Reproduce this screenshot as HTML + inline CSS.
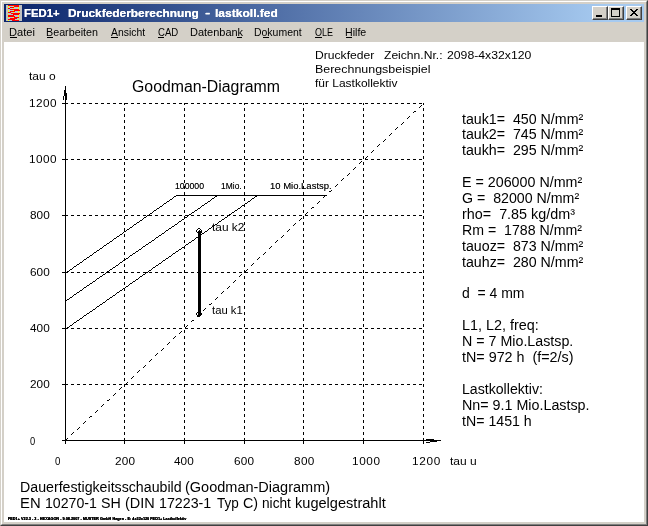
<!DOCTYPE html><html lang="de"><head><meta charset="utf-8"><title>FED1+ Druckfederberechnung - lastkoll.fed</title><style>
html,body{margin:0;padding:0;}
body{width:648px;height:526px;overflow:hidden;background:#d4d0c8;position:relative;font-family:"Liberation Sans",sans-serif;color:#000;}
.abs{position:absolute;}
.t{position:absolute;white-space:pre;line-height:1;transform-origin:0 0;font-family:"Liberation Sans",sans-serif;color:#000;}
.m u{text-decoration:none;}
#title{position:absolute;left:4px;top:4px;width:640px;height:18px;background:linear-gradient(to right,#0a246a 0%,#a6caf0 94%);}
.w{color:#fff;font-weight:bold;text-shadow:0 0 0 #fff;}
.btn{position:absolute;top:6px;width:16px;height:14px;background:#d4d0c8;box-sizing:border-box;border:1px solid;border-color:#fff #404040 #404040 #fff;box-shadow:inset -1px -1px 0 #808080;}
</style></head><body>
<div class="abs" style="left:0;top:0;width:648px;height:526px;box-sizing:border-box;border:1px solid;border-color:#d4d0c8 #404040 #404040 #d4d0c8;"></div>
<div class="abs" style="left:1px;top:1px;width:646px;height:524px;box-sizing:border-box;border:1px solid;border-color:#fff #808080 #808080 #fff;"></div>
<div id="title"></div>
<svg class="abs" style="left:6px;top:5px" width="16" height="16" viewBox="0 0 16 16" shape-rendering="crispEdges"><rect width="16" height="16" fill="#c0c0c0"/><path fill="#ff0000" d="M2 0h11v1h-11zM8 1h5v1h-5zM4 2h4v1h-4zM2 3h2v1h-2zM4 4h9v1h-9zM8 5h6v1h-6zM4 6h5v1h-5zM2 7h3v1h-3zM5 8h9v1h-9zM7 9h6v1h-6zM2 10h6v1h-6zM2 11h7v1h-7zM8 12h5v1h-5zM4 13h7v1h-7zM2 14h7v1h-7zM6 15h7v1h-7z"/><path fill="#ffff00" d="M2 1h1v1h-1zM7 1h1v1h-1zM2 2h1v1h-1zM12 2h1v1h-1zM7 3h1v1h-1zM12 3h1v1h-1zM2 5h1v1h-1zM7 5h1v1h-1zM2 6h1v1h-1zM12 6h1v1h-1zM7 7h1v1h-1zM12 7h1v1h-1zM2 9h1v1h-1zM12 10h1v1h-1zM12 11h1v1h-1zM2 12h1v1h-1zM7 12h1v1h-1zM12 14h1v1h-1zM2 15h1v1h-1z"/><path fill="#b4c8d0" d="M3 1h4v1h-4zM3 2h1v1h-1zM8 2h4v1h-4zM4 3h3v1h-3zM8 3h4v1h-4zM2 4h2v1h-2zM3 5h4v1h-4zM3 6h1v1h-1zM9 6h3v1h-3zM5 7h2v1h-2zM8 7h4v1h-4zM2 8h3v1h-3zM3 9h4v1h-4zM8 10h4v1h-4zM9 11h3v1h-3zM3 12h4v1h-4zM2 13h2v1h-2zM11 13h2v1h-2zM9 14h3v1h-3zM3 15h3v1h-3z"/></svg>
<div class="btn" style="left:592px"><div class="abs" style="left:3px;top:8px;width:6px;height:2px;background:#000"></div></div>
<div class="btn" style="left:608px"><div class="abs" style="left:2px;top:1px;width:9px;height:9px;box-sizing:border-box;border:1px solid #000;border-top-width:2px"></div></div>
<div class="btn" style="left:626px"><svg class="abs" style="left:3px;top:2px" width="8" height="7" viewBox="0 0 8 7" shape-rendering="crispEdges"><path d="M0 0h2v1h1v1h2v-1h1v-1h2v1h-1v1h-1v1h-1v1h1v1h1v1h1v1h-2v-1h-1v-1h-2v1h-1v1h-2v-1h1v-1h1v-1h1v-1h-1v-1h-1v-1h-1z" fill="#000"/></svg></div>
<div class="abs" style="left:4px;top:42px;width:640px;height:480px;background:#fff"></div>
<svg class="abs" style="left:0;top:0" width="648" height="526" viewBox="0 0 648 526" shape-rendering="crispEdges" fill="none" stroke="#000" stroke-width="1"><line x1="124.5" y1="441" x2="124.5" y2="103" stroke-dasharray="3 3"/><line x1="124.5" y1="438" x2="124.5" y2="444"/><line x1="65" y1="384.5" x2="424" y2="384.5" stroke-dasharray="3 3"/><line x1="62" y1="384.5" x2="68" y2="384.5"/><line x1="184.5" y1="441" x2="184.5" y2="103" stroke-dasharray="3 3"/><line x1="184.5" y1="438" x2="184.5" y2="444"/><line x1="65" y1="328.5" x2="424" y2="328.5" stroke-dasharray="3 3"/><line x1="62" y1="328.5" x2="68" y2="328.5"/><line x1="244.5" y1="441" x2="244.5" y2="103" stroke-dasharray="3 3"/><line x1="244.5" y1="438" x2="244.5" y2="444"/><line x1="65" y1="272.5" x2="424" y2="272.5" stroke-dasharray="3 3"/><line x1="62" y1="272.5" x2="68" y2="272.5"/><line x1="303.5" y1="441" x2="303.5" y2="103" stroke-dasharray="3 3"/><line x1="303.5" y1="438" x2="303.5" y2="444"/><line x1="65" y1="215.5" x2="424" y2="215.5" stroke-dasharray="3 3"/><line x1="62" y1="215.5" x2="68" y2="215.5"/><line x1="363.5" y1="441" x2="363.5" y2="103" stroke-dasharray="3 3"/><line x1="363.5" y1="438" x2="363.5" y2="444"/><line x1="65" y1="159.5" x2="424" y2="159.5" stroke-dasharray="3 3"/><line x1="62" y1="159.5" x2="68" y2="159.5"/><line x1="423.5" y1="441" x2="423.5" y2="103" stroke-dasharray="3 3"/><line x1="423.5" y1="438" x2="423.5" y2="444"/><line x1="65" y1="103.5" x2="424" y2="103.5" stroke-dasharray="3 3"/><line x1="62" y1="103.5" x2="68" y2="103.5"/><line x1="65.5" y1="86" x2="65.5" y2="444"/><line x1="62" y1="440.5" x2="441" y2="440.5"/><g fill="#000" stroke="none"><rect x="64" y="90" width="1" height="6"/><rect x="66" y="93" width="1" height="7"/><rect x="63" y="96" width="1" height="4"/><rect x="426" y="439" width="8" height="1"/><rect x="430" y="441" width="7" height="1"/><rect x="426" y="442" width="4" height="1"/></g><path d="M421 105.5h1M420 106.5h1M419 107.5h1M414 111.5h2M413 112.5h1M409 116.5h1M408 117.5h1M407 118.5h1M403 122.5h1M402 123.5h1M401 124.5h1M397 127.5h1M396 128.5h1M395 129.5h1M391 133.5h1M390 134.5h1M389 135.5h1M385 139.5h1M384 140.5h1M383 141.5h1M379 144.5h1M378 145.5h1M377 146.5h1M373 150.5h1M372 151.5h1M371 152.5h1M367 156.5h1M366 157.5h1M365 158.5h1M361 161.5h1M360 162.5h1M359 163.5h1M355 167.5h1M354 168.5h1M353 169.5h1M349 173.5h1M348 174.5h1M347 175.5h1M343 178.5h1M342 179.5h1M341 180.5h1M337 184.5h1M336 185.5h1M335 186.5h1M331 190.5h1M329 191.5h2M325 195.5h1M324 196.5h1M323 197.5h1M319 201.5h1M318 202.5h1M317 203.5h1M312 207.5h2M311 208.5h1M307 212.5h1M306 213.5h1M305 214.5h1M301 218.5h1M300 219.5h1M299 220.5h1M295 223.5h1M294 224.5h1M293 225.5h1M289 229.5h1M288 230.5h1M287 231.5h1M283 235.5h1M282 236.5h1M281 237.5h1M277 240.5h1M276 241.5h1M275 242.5h1M271 246.5h1M270 247.5h1M269 248.5h1M265 252.5h1M264 253.5h1M263 254.5h1M259 257.5h1M258 258.5h1M257 259.5h1M253 263.5h1M252 264.5h1M251 265.5h1M247 269.5h1M246 270.5h1M245 271.5h1M241 274.5h1M240 275.5h1M239 276.5h1M235 280.5h1M234 281.5h1M233 282.5h1M229 286.5h1M228 287.5h1M227 288.5h1M223 291.5h1M222 292.5h1M221 293.5h1M217 297.5h1M216 298.5h1M215 299.5h1M211 303.5h1M209 304.5h2M205 308.5h1M204 309.5h1M203 310.5h1M199 314.5h1M198 315.5h1M197 316.5h1M192 320.5h2M191 321.5h1M187 325.5h1M186 326.5h1M185 327.5h1M181 331.5h1M180 332.5h1M179 333.5h1M175 336.5h1M174 337.5h1M173 338.5h1M169 342.5h1M168 343.5h1M167 344.5h1M163 348.5h1M162 349.5h1M161 350.5h1M157 353.5h1M156 354.5h1M155 355.5h1M151 359.5h1M150 360.5h1M149 361.5h1M145 365.5h1M144 366.5h1M143 367.5h1M139 370.5h1M138 371.5h1M137 372.5h1M133 376.5h1M132 377.5h1M131 378.5h1M127 382.5h1M126 383.5h1M125 384.5h1M121 387.5h1M120 388.5h1M119 389.5h1M115 393.5h1M114 394.5h1M113 395.5h1M109 399.5h1M107 400.5h2M103 404.5h1M102 405.5h1M101 406.5h1M97 410.5h1M96 411.5h1M95 412.5h1M90 416.5h2M89 417.5h1M85 421.5h1M84 422.5h1M83 423.5h1M79 427.5h1M78 428.5h1M77 429.5h1M73 432.5h1M72 433.5h1M71 434.5h1M67 438.5h1M66 439.5h1M65 440.5h1M176 195.5h1M174 196.5h2M173 197.5h1M172 198.5h1M170 199.5h2M169 200.5h1M167 201.5h2M166 202.5h1M164 203.5h2M163 204.5h1M162 205.5h1M160 206.5h2M159 207.5h1M157 208.5h2M156 209.5h1M154 210.5h2M153 211.5h1M152 212.5h1M150 213.5h2M149 214.5h1M147 215.5h2M146 216.5h1M144 217.5h2M143 218.5h1M142 219.5h1M140 220.5h2M139 221.5h1M137 222.5h2M136 223.5h1M134 224.5h2M133 225.5h1M132 226.5h1M130 227.5h2M129 228.5h1M127 229.5h2M126 230.5h1M124 231.5h2M123 232.5h1M122 233.5h1M120 234.5h2M119 235.5h1M117 236.5h2M116 237.5h1M114 238.5h2M113 239.5h1M112 240.5h1M110 241.5h2M109 242.5h1M107 243.5h2M106 244.5h1M104 245.5h2M103 246.5h1M102 247.5h1M100 248.5h2M99 249.5h1M97 250.5h2M96 251.5h1M94 252.5h2M93 253.5h1M92 254.5h1M90 255.5h2M89 256.5h1M87 257.5h2M86 258.5h1M84 259.5h2M83 260.5h1M82 261.5h1M80 262.5h2M79 263.5h1M77 264.5h2M76 265.5h1M74 266.5h2M73 267.5h1M72 268.5h1M70 269.5h2M69 270.5h1M67 271.5h2M66 272.5h1M217 195.5h1M215 196.5h2M214 197.5h1M212 198.5h2M211 199.5h1M210 200.5h1M208 201.5h2M207 202.5h1M205 203.5h2M204 204.5h1M202 205.5h2M201 206.5h1M200 207.5h1M198 208.5h2M197 209.5h1M195 210.5h2M194 211.5h1M192 212.5h2M191 213.5h1M189 214.5h2M188 215.5h1M187 216.5h1M185 217.5h2M184 218.5h1M182 219.5h2M181 220.5h1M179 221.5h2M178 222.5h1M177 223.5h1M175 224.5h2M174 225.5h1M172 226.5h2M171 227.5h1M169 228.5h2M168 229.5h1M166 230.5h2M165 231.5h1M164 232.5h1M162 233.5h2M161 234.5h1M159 235.5h2M158 236.5h1M156 237.5h2M155 238.5h1M154 239.5h1M152 240.5h2M151 241.5h1M149 242.5h2M148 243.5h1M146 244.5h2M145 245.5h1M143 246.5h2M142 247.5h1M141 248.5h1M139 249.5h2M138 250.5h1M136 251.5h2M135 252.5h1M133 253.5h2M132 254.5h1M130 255.5h2M129 256.5h1M128 257.5h1M126 258.5h2M125 259.5h1M123 260.5h2M122 261.5h1M120 262.5h2M119 263.5h1M118 264.5h1M116 265.5h2M115 266.5h1M113 267.5h2M112 268.5h1M110 269.5h2M109 270.5h1M107 271.5h2M106 272.5h1M105 273.5h1M103 274.5h2M102 275.5h1M100 276.5h2M99 277.5h1M97 278.5h2M96 279.5h1M95 280.5h1M93 281.5h2M92 282.5h1M90 283.5h2M89 284.5h1M87 285.5h2M86 286.5h1M84 287.5h2M83 288.5h1M82 289.5h1M80 290.5h2M79 291.5h1M77 292.5h2M76 293.5h1M74 294.5h2M73 295.5h1M72 296.5h1M70 297.5h2M69 298.5h1M67 299.5h2M66 300.5h1M257 195.5h1M255 196.5h2M254 197.5h1M252 198.5h2M251 199.5h1M250 200.5h1M248 201.5h2M247 202.5h1M245 203.5h2M244 204.5h1M242 205.5h2M241 206.5h1M240 207.5h1M238 208.5h2M237 209.5h1M235 210.5h2M234 211.5h1M232 212.5h2M231 213.5h1M229 214.5h2M228 215.5h1M227 216.5h1M225 217.5h2M224 218.5h1M222 219.5h2M221 220.5h1M219 221.5h2M218 222.5h1M217 223.5h1M215 224.5h2M214 225.5h1M212 226.5h2M211 227.5h1M209 228.5h2M208 229.5h1M207 230.5h1M205 231.5h2M204 232.5h1M202 233.5h2M201 234.5h1M199 235.5h2M198 236.5h1M196 237.5h2M195 238.5h1M194 239.5h1M192 240.5h2M191 241.5h1M189 242.5h2M188 243.5h1M186 244.5h2M185 245.5h1M184 246.5h1M182 247.5h2M181 248.5h1M179 249.5h2M178 250.5h1M176 251.5h2M175 252.5h1M173 253.5h2M172 254.5h1M171 255.5h1M169 256.5h2M168 257.5h1M166 258.5h2M165 259.5h1M163 260.5h2M162 261.5h1M161 262.5h1M159 263.5h2M158 264.5h1M156 265.5h2M155 266.5h1M153 267.5h2M152 268.5h1M151 269.5h1M149 270.5h2M148 271.5h1M146 272.5h2M145 273.5h1M143 274.5h2M142 275.5h1M140 276.5h2M139 277.5h1M138 278.5h1M136 279.5h2M135 280.5h1M133 281.5h2M132 282.5h1M130 283.5h2M129 284.5h1M128 285.5h1M126 286.5h2M125 287.5h1M123 288.5h2M122 289.5h1M120 290.5h2M119 291.5h1M117 292.5h2M116 293.5h1M115 294.5h1M113 295.5h2M112 296.5h1M110 297.5h2M109 298.5h1M107 299.5h2M106 300.5h1M105 301.5h1M103 302.5h2M102 303.5h1M100 304.5h2M99 305.5h1M97 306.5h2M96 307.5h1M95 308.5h1M93 309.5h2M92 310.5h1M90 311.5h2M89 312.5h1M87 313.5h2M86 314.5h1M84 315.5h2M83 316.5h1M82 317.5h1M80 318.5h2M79 319.5h1M77 320.5h2M76 321.5h1M74 322.5h2M73 323.5h1M72 324.5h1M70 325.5h2M69 326.5h1M67 327.5h2M66 328.5h1M176 195.5H327"/><path stroke-width="3" d="M199.5 231V316"/><path d="M198 228.5h1M199 228.5h1M197 229.5h1M200 229.5h1M196 230.5h1M201 230.5h1M199 230.5h1M196 231.5h1M201 231.5h1M197 232.5h1M201 232.5h1M197 312.5h1M196 313.5h1M201 313.5h1M196 314.5h1M201 314.5h1M197 315.5h1M197 316.5h1M198 316.5h1M199 316.5h1"/></svg>
<div class="t w" style="left:24px;top:8px;font-size:11px;transform:scaleX(1.029);">FED1+</div>
<div class="t w" style="left:68.3px;top:8px;font-size:11px;transform:scaleX(1.081);">Druckfederberechnung</div>
<div class="t w" style="left:204.5px;top:7px;font-size:11px;transform:scaleX(1.433);">-</div>
<div class="t w" style="left:214.9px;top:8px;font-size:11px;transform:scaleX(1.095);">lastkoll.fed</div>
<div class="t m" style="left:9px;top:27px;font-size:11px;transform:scaleX(1.008);">Datei</div>
<div class="t m" style="left:46.2px;top:27px;font-size:11px;transform:scaleX(0.977);">Bearbeiten</div>
<div class="t m" style="left:111px;top:27px;font-size:11px;transform:scaleX(0.944);">Ansicht</div>
<div class="t m" style="left:158px;top:27px;font-size:11px;transform:scaleX(0.87);">CAD</div>
<div class="t m" style="left:189.8px;top:27px;font-size:11px;transform:scaleX(0.998);">Datenbank</div>
<div class="t m" style="left:254.2px;top:27px;font-size:11px;transform:scaleX(0.951);">Dokument</div>
<div class="t m" style="left:314.7px;top:27px;font-size:11px;transform:scaleX(0.818);">OLE</div>
<div class="t m" style="left:344.7px;top:27px;font-size:11px;transform:scaleX(0.967);">Hilfe</div>
<div class="t" style="left:314.7px;top:50px;font-size:11px;transform:scaleX(1.102);">Druckfeder</div>
<div class="t" style="left:384.2px;top:50px;font-size:11px;transform:scaleX(1.1);">Zeichn.Nr.:</div>
<div class="t" style="left:446.8px;top:50px;font-size:11px;transform:scaleX(1.112);">2098-4x32x120</div>
<div class="t" style="left:314.7px;top:64px;font-size:11px;transform:scaleX(1.131);">Berechnungsbeispiel</div>
<div class="t" style="left:314.9px;top:78px;font-size:11px;transform:scaleX(1.088);">für Lastkollektiv</div>
<div class="t" style="left:29.2px;top:71px;font-size:11px;transform:scaleX(1.092);">tau o</div>
<div class="t" style="left:131.7px;top:79px;font-size:16px;transform:scaleX(0.99);">Goodman-Diagramm</div>
<div class="t" style="left:29.7px;top:436px;font-size:11px;transform:scaleX(0.85);">0</div>
<div class="t" style="left:29.7px;top:379px;font-size:11px;transform:scaleX(1.07);letter-spacing:0.02px;">200</div>
<div class="t" style="left:29.7px;top:323px;font-size:11px;transform:scaleX(1.07);letter-spacing:0.02px;">400</div>
<div class="t" style="left:29.7px;top:267px;font-size:11px;transform:scaleX(1.07);letter-spacing:0.02px;">600</div>
<div class="t" style="left:29.7px;top:210px;font-size:11px;transform:scaleX(1.07);letter-spacing:0.02px;">800</div>
<div class="t" style="left:28.6px;top:154px;font-size:11px;transform:scaleX(1.07);letter-spacing:0.46px;">1000</div>
<div class="t" style="left:28.6px;top:98px;font-size:11px;transform:scaleX(1.07);letter-spacing:0.46px;">1200</div>
<div class="t" style="left:54.7px;top:456px;font-size:11px;transform:scaleX(0.883);">0</div>
<div class="t" style="left:114.7px;top:456px;font-size:11px;transform:scaleX(1.07);letter-spacing:0.16px;">200</div>
<div class="t" style="left:173.8px;top:456px;font-size:11px;transform:scaleX(1.07);letter-spacing:0.07px;">400</div>
<div class="t" style="left:233.5px;top:456px;font-size:11px;transform:scaleX(1.07);letter-spacing:0.21px;">600</div>
<div class="t" style="left:293.5px;top:456px;font-size:11px;transform:scaleX(1.07);letter-spacing:0.35px;">800</div>
<div class="t" style="left:351.7px;top:456px;font-size:11px;transform:scaleX(1.07);letter-spacing:0.59px;">1000</div>
<div class="t" style="left:411.7px;top:456px;font-size:11px;transform:scaleX(1.07);letter-spacing:0.65px;">1200</div>
<div class="t" style="left:450.3px;top:456px;font-size:11px;transform:scaleX(1.092);">tau u</div>
<div class="t" style="left:174.7px;top:181px;font-size:9.5px;transform:scaleX(0.916);text-shadow:0 0 0 rgba(0,0,0,.55);">100000</div>
<div class="t" style="left:221.1px;top:181px;font-size:9.5px;transform:scaleX(0.891);text-shadow:0 0 0 rgba(0,0,0,.55);">1Mio.</div>
<div class="t" style="left:269.5px;top:181px;font-size:9.5px;transform:scaleX(0.998);text-shadow:0 0 0 rgba(0,0,0,.55);">10 Mio.Lastsp.</div>
<div class="t" style="left:211.6px;top:222px;font-size:11px;transform:scaleX(1.079);">tau k2</div>
<div class="t" style="left:211.6px;top:305px;font-size:11px;transform:scaleX(1.024);">tau k1</div>
<div class="t" style="left:462.2px;top:112px;font-size:14px;transform:scaleX(1.015);">tauk1=  450 N/mm²</div>
<div class="t" style="left:462.2px;top:127px;font-size:14px;transform:scaleX(1.015);">tauk2=  745 N/mm²</div>
<div class="t" style="left:462.2px;top:143px;font-size:14px;transform:scaleX(1.015);">taukh=  295 N/mm²</div>
<div class="t" style="left:461.7px;top:175px;font-size:14px;transform:scaleX(1.02);">E = 206000 N/mm²</div>
<div class="t" style="left:461.7px;top:191px;font-size:14px;transform:scaleX(1.014);">G =  82000 N/mm²</div>
<div class="t" style="left:461.5px;top:207px;font-size:14px;transform:scaleX(1.026);">rho=  7.85 kg/dm³</div>
<div class="t" style="left:461.7px;top:223px;font-size:14px;transform:scaleX(1.011);">Rm =  1788 N/mm²</div>
<div class="t" style="left:462.2px;top:239px;font-size:14px;transform:scaleX(1.015);">tauoz=  873 N/mm²</div>
<div class="t" style="left:462.2px;top:255px;font-size:14px;transform:scaleX(1.015);">tauhz=  280 N/mm²</div>
<div class="t" style="left:462.1px;top:286px;font-size:14px;transform:scaleX(0.998);">d  = 4 mm</div>
<div class="t" style="left:461.7px;top:318px;font-size:14px;transform:scaleX(1.027);">L1, L2, freq:</div>
<div class="t" style="left:461.7px;top:334px;font-size:14px;transform:scaleX(1.018);">N = 7 Mio.Lastsp.</div>
<div class="t" style="left:462.2px;top:350px;font-size:14px;transform:scaleX(1.023);">tN= 972 h  (f=2/s)</div>
<div class="t" style="left:461.7px;top:382px;font-size:14px;transform:scaleX(1.009);">Lastkollektiv:</div>
<div class="t" style="left:461.7px;top:398px;font-size:14px;transform:scaleX(1.021);">Nn= 9.1 Mio.Lastsp.</div>
<div class="t" style="left:462.2px;top:414px;font-size:14px;transform:scaleX(1.012);">tN= 1451 h</div>
<div class="t" style="left:19.7px;top:480px;font-size:14px;transform:scaleX(1.013);">Dauerfestigkeitsschaubild</div>
<div class="t" style="left:185.3px;top:480px;font-size:14px;transform:scaleX(1.036);">(Goodman-Diagramm)</div>
<div class="t" style="left:19.6px;top:496px;font-size:14px;transform:scaleX(1.059);">EN</div>
<div class="t" style="left:44.7px;top:496px;font-size:14px;transform:scaleX(1.01);">10270-1</div>
<div class="t" style="left:101px;top:496px;font-size:14px;transform:scaleX(1.018);">SH</div>
<div class="t" style="left:124.8px;top:496px;font-size:14px;transform:scaleX(1.033);">(DIN</div>
<div class="t" style="left:159px;top:496px;font-size:14px;transform:scaleX(1.016);">17223-1</div>
<div class="t" style="left:216.8px;top:496px;font-size:14px;transform:scaleX(0.964);">Typ</div>
<div class="t" style="left:242.7px;top:496px;font-size:14px;transform:scaleX(1.023);">C)</div>
<div class="t" style="left:262px;top:496px;font-size:14px;transform:scaleX(0.976);">nicht</div>
<div class="t" style="left:294.8px;top:496px;font-size:14px;transform:scaleX(1.041);">kugelgestrahlt</div>
<div class="abs" style="left:10px;top:37px;width:7px;height:1px;background:#000"></div>
<div class="abs" style="left:47px;top:37px;width:6px;height:1px;background:#000"></div>
<div class="abs" style="left:111px;top:37px;width:7px;height:1px;background:#000"></div>
<div class="abs" style="left:158px;top:37px;width:6px;height:1px;background:#000"></div>
<div class="abs" style="left:237px;top:37px;width:5px;height:1px;background:#000"></div>
<div class="abs" style="left:263px;top:37px;width:6px;height:1px;background:#000"></div>
<div class="abs" style="left:315px;top:37px;width:7px;height:1px;background:#000"></div>
<div class="abs" style="left:346px;top:37px;width:6px;height:1px;background:#000"></div>
<div class="t" style="left:8px;top:517px;font-size:4.3px;font-weight:bold;transform:scaleX(0.886);text-shadow:0 0 0 #000,0 0 0 #000;">FED1+ V22.3 - 3 - HEXAGON - 9.08.2007 - MUSTER GmbH Hagen - E: 4x32x120 FED1+ Lastkollektiv</div>
</body></html>
